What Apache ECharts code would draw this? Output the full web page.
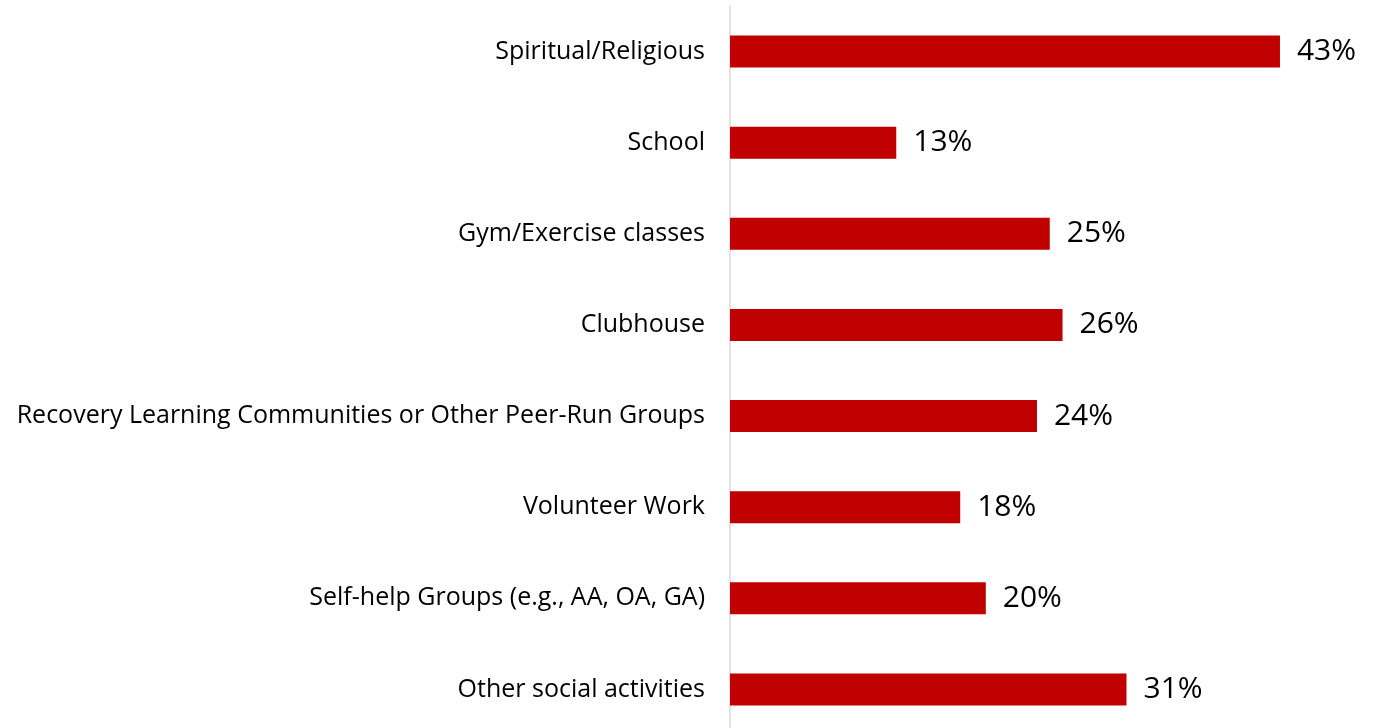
<!DOCTYPE html>
<html>
<head>
<meta charset="utf-8">
<script src="https://cdn.jsdelivr.net/npm/echarts@6/dist/echarts.min.js"></script>
<style>
  html, body { margin: 0; padding: 0; background: #fff; }
  #chart { width: 1389px; height: 728px; }
</style>
</head>
<body>
<div id="chart"></div>
<script>
// Activities, top to bottom
const categories = [
  'Spiritual/Religious',
  'School',
  'Gym/Exercise classes',
  'Clubhouse',
  'Recovery Learning Communities or Other Peer-Run Groups',
  'Volunteer Work',
  'Self-help Groups (e.g., AA, OA, GA)',
  'Other social activities'
];
// Share of respondents, percent
const values = [43, 13, 25, 26, 24, 18, 20, 31];

const chart = echarts.init(document.getElementById('chart'));
chart.setOption({
  animation: false,
  grid: { left: 730, top: 6, width: 639.5, height: 729, outerBoundsMode: 'none' },
  xAxis: {
    type: 'value', min: 0, max: 50,
    show: false
  },
  yAxis: {
    type: 'category',
    data: categories,
    inverse: true,
    axisLine: { show: true, lineStyle: { color: '#d9d9d9', width: 1.5 } },
    axisTick: { show: false },
    axisLabel: {
      margin: 25,
      color: '#000',
      fontFamily: 'Open Sans',
      fontSize: 25
    }
  },
  series: [{
    type: 'bar',
    data: values,
    barWidth: 32,
    itemStyle: { color: '#c00000' },
    label: {
      show: true,
      position: 'right',
      distance: 17,
      formatter: '{c}%',
      color: '#000',
      fontFamily: 'Open Sans',
      fontSize: 30
    }
  }]
});
</script>
</body>
</html>
